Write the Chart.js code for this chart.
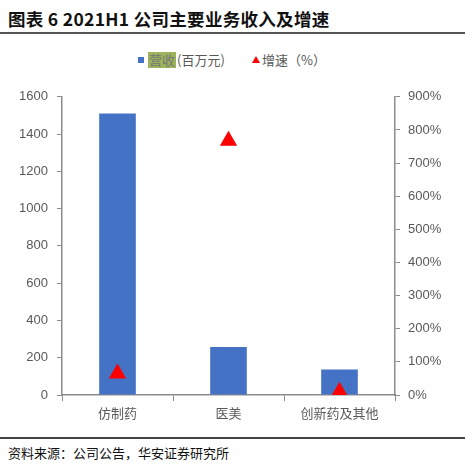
<!DOCTYPE html>
<html>
<head>
<meta charset="utf-8">
<script src="https://cdn.jsdelivr.net/npm/chart.js@4/dist/chart.umd.min.js"></script>
<style>
  body { margin: 0; width: 465px; height: 476px; background: #fff; position: relative; overflow: hidden;
         font-family: "Noto Sans CJK SC", "Liberation Sans", sans-serif; }
  #title { position: absolute; left: 8px; top: 6px; font-size: 17.5px; font-weight: bold; color: #111; white-space: nowrap; letter-spacing: 0.3px; }
  #topline { position: absolute; left: 0; top: 32px; width: 465px; height: 2px; background: #555; }
  #legend { position: absolute; top: 50px; left: 0; width: 465px; height: 20px; font-size: 13px; color: #595959; }
  #legend .sq { position: absolute; left: 138px; top: 7px; width: 6px; height: 6px; background: #4472C4; }
  #legend .hl { position: absolute; left: 148px; top: 2px; background: #9BB45C; color: #777; padding: 0 1px; line-height: 16px; }
  #legend .t1 { position: absolute; left: 177px; top: 0; line-height: 20px; }
  #legend .tri { position: absolute; left: 252px; top: 6px; width: 0; height: 0;
                 border-left: 4px solid transparent; border-right: 4px solid transparent; border-bottom: 7px solid #f00; }
  #legend .t2 { position: absolute; left: 262px; top: 0; line-height: 20px; }
  #wrap { position: absolute; left: 0; top: 80px; width: 465px; height: 350px; }
  #botline { position: absolute; left: 0; top: 437px; width: 465px; height: 2px; background: #444; }
  #source { position: absolute; left: 8px; top: 443px; font-size: 13px; color: #111; white-space: nowrap; }
</style>
</head>
<body>
<div id="title">图表 6 2021H1 公司主要业务收入及增速</div>
<div id="topline"></div>
<div id="legend">
  <span class="sq"></span><span class="hl">营收</span><span class="t1">(百万元)</span>
  <span class="tri"></span><span class="t2">增速（%）</span>
</div>
<div id="wrap"><canvas id="c"></canvas></div>
<div id="botline"></div>
<div id="source">资料来源：公司公告，华安证券研究所</div>
<script>
// data
const categories = ['仿制药', '医美', '创新药及其他'];
const revenue = [1510, 258, 137];     // 百万元
const growth = [65, 767, 10];         // %

const axisGray = '#8c8c8c';
const tickFont = { family: 'Liberation Sans, Arial, sans-serif', size: 13 };

new Chart(document.getElementById('c'), {
  type: 'bar',
  data: {
    labels: categories,
    datasets: [
      {
        type: 'line',
        label: '增速（%）',
        data: growth,
        yAxisID: 'y1',
        showLine: false,
        pointStyle: 'triangle',
        pointRadius: 10,
        pointBackgroundColor: '#ff0000',
        pointBorderColor: '#ff0000',
        borderWidth: 0,
        order: 0
      },
      {
        label: '营收(百万元)',
        data: revenue,
        yAxisID: 'y',
        backgroundColor: '#4472C4',
        barPercentage: 0.33,
        categoryPercentage: 1,
        order: 1
      }
    ]
  },
  options: {
    responsive: true,
    maintainAspectRatio: false,
    animation: false,
    layout: { padding: { top: 11, left: 0, right: 0, bottom: 0 } },
    plugins: { legend: { display: false }, tooltip: { enabled: false } },
    scales: {
      x: {
        offset: true,
        grid: { offset: true, drawOnChartArea: false, color: axisGray, tickLength: 6 },
        border: { color: axisGray, width: 1.5 },
        ticks: { color: '#595959', font: { family: 'Noto Sans CJK SC', size: 13 }, padding: 4, maxRotation: 0 },
        afterFit: s => { s.height = 35; }
      },
      y: {
        position: 'left',
        min: 0, max: 1600,
        ticks: { stepSize: 200, color: '#595959', font: tickFont, padding: 9, callback: v => String(v) },
        grid: { drawOnChartArea: false, color: axisGray, tickLength: 5 },
        border: { color: axisGray, width: 1.5 },
        afterFit: s => { s.width = 62; }
      },
      y1: {
        position: 'right',
        min: 0, max: 900,
        ticks: { stepSize: 100, color: '#595959', font: tickFont, padding: 8, callback: v => v + '%' },
        grid: { drawOnChartArea: false, color: axisGray, tickLength: 5 },
        border: { color: axisGray, width: 1.5 },
        afterFit: s => { s.width = 70; }
      }
    }
  }
});
</script>
</body>
</html>
